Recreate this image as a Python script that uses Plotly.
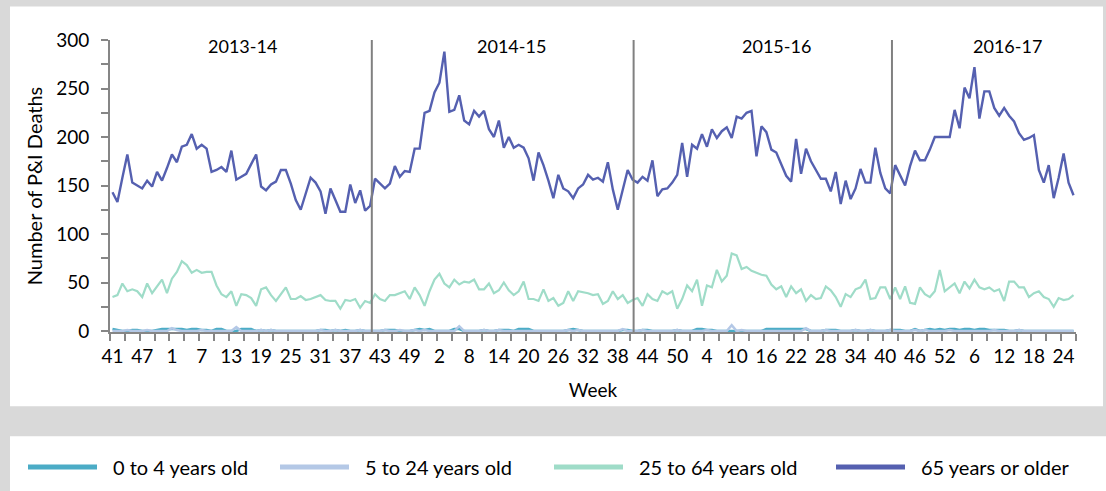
import plotly.graph_objects as go

# ---- categories: MMWR weeks, 2013 wk41 .. 2017 wk26 ----
weeks = (list(range(41, 53)) + list(range(1, 54)) + list(range(1, 53))
         + list(range(1, 53)) + list(range(1, 27)))
seasons = ["2013-14", "2014-15", "2015-16", "2016-17"]
series_names = ["0 to 4 years old", "5 to 24 years old", "25 to 64 years old", "65 years or older"]
series_colors = ["#4bacc6", "#b4c8e6", "#9fdcc8", "#5560b0"]

age_65_plus = [
    143, 133, 158, 182, 153, 150, 147, 155, 149, 164, 155, 168, 182, 174, 190, 192, 203, 188, 192, 188,
    164, 166, 169, 164, 186, 156, 159, 162, 172, 182, 149, 145, 151, 154, 166, 166, 152, 135, 125, 141,
    158, 153, 144, 121, 147, 135, 123, 123, 151, 132, 145, 124, 129, 157, 152, 147, 152, 170, 159, 165,
    164, 188, 188, 225, 227, 246, 256, 288, 226, 228, 243, 217, 213, 227, 221, 227, 208, 200, 217, 189,
    200, 189, 192, 189, 178, 155, 184, 171, 155, 137, 161, 147, 144, 137, 147, 151, 161, 156, 158, 154,
    174, 146, 125, 145, 166, 156, 153, 159, 155, 176, 139, 146, 147, 153, 161, 194, 159, 192, 188, 203,
    190, 208, 199, 206, 210, 199, 221, 219, 225, 227, 180, 211, 205, 187, 184, 172, 160, 154, 198, 162,
    188, 175, 166, 157, 157, 144, 164, 131, 155, 136, 147, 167, 153, 153, 189, 163, 147, 142, 171, 161,
    150, 170, 186, 176, 176, 187, 200, 200, 200, 200, 228, 209, 251, 240, 272, 219, 247, 247, 230, 222,
    230, 222, 216, 204, 197, 199, 202, 166, 153, 171, 137, 158, 183, 153, 140,
]

age_25_64 = [
    35, 37, 49, 41, 43, 41, 35, 49, 39, 46, 53, 39, 54, 61, 72, 68, 60, 63, 60, 61,
    61, 47, 38, 35, 41, 26, 38, 37, 34, 26, 43, 45, 37, 31, 38, 45, 33, 33, 36, 32,
    33, 35, 37, 32, 31, 31, 23, 32, 31, 33, 24, 31, 29, 38, 33, 31, 37, 37, 39, 41,
    33, 45, 37, 26, 41, 53, 59, 49, 45, 53, 48, 51, 50, 53, 43, 43, 49, 39, 42, 50,
    42, 37, 41, 51, 33, 33, 31, 43, 31, 34, 26, 29, 41, 31, 41, 40, 39, 37, 38, 28,
    31, 41, 33, 37, 29, 32, 34, 26, 38, 33, 31, 41, 38, 41, 23, 33, 47, 41, 53, 26,
    47, 45, 63, 51, 57, 80, 78, 64, 66, 62, 60, 58, 57, 48, 43, 46, 35, 46, 39, 43,
    31, 37, 33, 34, 46, 42, 35, 25, 38, 35, 43, 45, 53, 33, 34, 45, 45, 33, 45, 33,
    46, 29, 28, 45, 38, 35, 41, 63, 41, 45, 49, 39, 51, 44, 53, 45, 43, 45, 41, 43,
    31, 51, 51, 45, 45, 35, 39, 41, 35, 33, 25, 34, 32, 33, 37,
]

age_0_4 = [
    2, 1, 0, 0, 1, 1, 0, 0, 0, 1, 2, 2, 2, 2, 2, 1, 2, 2, 1, 1,
    0, 2, 2, 0, 0, 0, 2, 2, 2, 0, 1, 0, 1, 0, 0, 0, 0, 0, 0, 0,
    0, 0, 1, 1, 0, 1, 0, 1, 0, 0, 1, 0, 0, 0, 0, 1, 1, 1, 0, 0,
    0, 1, 2, 1, 2, 0, 0, 0, 0, 2, 2, 0, 0, 0, 0, 1, 0, 0, 1, 1,
    1, 0, 2, 2, 2, 0, 0, 0, 0, 0, 0, 0, 1, 2, 1, 0, 0, 0, 0, 0,
    0, 0, 0, 1, 1, 0, 0, 1, 1, 0, 0, 0, 0, 0, 1, 0, 0, 0, 2, 2,
    1, 1, 0, 0, 0, 0, 0, 0, 0, 0, 0, 0, 2, 2, 2, 2, 2, 2, 2, 2,
    2, 0, 0, 0, 1, 1, 1, 0, 0, 0, 1, 0, 0, 1, 0, 0, 0, 1, 1, 1,
    0, 0, 2, 0, 1, 2, 1, 2, 1, 2, 2, 1, 2, 2, 1, 2, 2, 1, 1, 1,
    1, 0, 0, 1, 0, 0, 0, 0, 0, 0, 0, 0, 0, 0, 0,
]

age_5_24 = [
    0, 0, 0, 1, 0, 0, 0, 1, 0, 0, 0, 0, 3, 1, 0, 0, 0, 0, 1, 0,
    0, 0, 0, 0, 0, 4, 0, 0, 0, 0, 1, 0, 1, 0, 0, 0, 0, 0, 0, 0,
    0, 0, 1, 0, 0, 1, 0, 0, 0, 0, 1, 0, 0, 0, 0, 1, 0, 0, 1, 0,
    0, 1, 0, 1, 0, 0, 0, 0, 0, 0, 5, 0, 0, 0, 0, 1, 0, 0, 1, 0,
    0, 0, 0, 0, 0, 0, 0, 0, 0, 0, 0, 0, 1, 0, 1, 0, 0, 0, 0, 0,
    0, 0, 0, 2, 0, 0, 0, 1, 0, 0, 0, 0, 0, 0, 1, 0, 0, 0, 0, 0,
    1, 0, 0, 0, 0, 6, 0, 1, 0, 0, 0, 0, 0, 0, 0, 0, 0, 0, 0, 0,
    3, 0, 0, 0, 1, 0, 0, 0, 0, 0, 1, 0, 0, 1, 0, 0, 0, 1, 0, 0,
    0, 0, 1, 0, 1, 0, 0, 0, 0, 1, 0, 0, 0, 0, 0, 0, 0, 0, 1, 0,
    0, 0, 0, 1, 0, 0, 0, 0, 0, 0, 0, 0, 0, 0, 0,
]

season_divider_x = [52.35, 105.2, 157.35]
season_label_x = [26.3, 80.6, 134.1, 180.7]

FONT = "Lato, Open Sans, sans-serif"
GRAY_AX = "#868686"

x = list(range(len(weeks)))
label_idx = list(range(0, len(weeks), 6))

fig = go.Figure()
all_series = [age_0_4, age_5_24, age_25_64, age_65_plus]
widths = [2.5, 2.5, 2.2, 2.4]
for name, vals, col, w in zip(series_names, all_series, series_colors, widths):
    fig.add_trace(go.Scatter(x=x, y=vals, mode="lines", name=name,
                             line=dict(color=col, width=w), showlegend=False))

W, H = 1106, 491
L, R, T, B = 110, 1076, 39.5, 332.5
pw, ph = R - L, B - T

def px2paper_x(px):
    return (px - L) / pw

def px2paper_y(py):
    return (B - py) / ph

shapes = []
# white panels
shapes.append(dict(type="rect", xref="paper", yref="paper", layer="below",
                   x0=px2paper_x(10), x1=px2paper_x(1103), y0=px2paper_y(407), y1=px2paper_y(6),
                   fillcolor="white", line=dict(width=0)))
shapes.append(dict(type="rect", xref="paper", yref="paper", layer="below",
                   x0=px2paper_x(10), x1=px2paper_x(1112), y0=px2paper_y(497), y1=px2paper_y(437),
                   fillcolor="white", line=dict(width=0)))
# season dividers
for dx in season_divider_x:
    shapes.append(dict(type="line", xref="x", yref="paper", x0=dx, x1=dx, y0=0, y1=1,
                       line=dict(color="#808080", width=2)))

annotations = []
for s, sx in zip(seasons, season_label_x):
    annotations.append(dict(x=sx, y=px2paper_y(46), xref="x", yref="paper", text=s,
                            showarrow=False, font=dict(family=FONT, size=18, color="black"),
                            xanchor="center", yanchor="middle"))

# manual legend (swatches + labels)
leg_sw_x = [28, 280, 554, 836]
leg_y = 468
for name, col, sx in zip(series_names, series_colors, leg_sw_x):
    shapes.append(dict(type="line", xref="paper", yref="paper",
                       x0=px2paper_x(sx), x1=px2paper_x(sx + 69),
                       y0=px2paper_y(leg_y), y1=px2paper_y(leg_y),
                       line=dict(color=col, width=5)))
    annotations.append(dict(x=px2paper_x(sx + 83), y=px2paper_y(leg_y), xref="paper", yref="paper",
                            text=name, showarrow=False, xanchor="left", yanchor="middle",
                            font=dict(family=FONT, size=20, color="black")))

fig.update_layout(
    width=W, height=H,
    margin=dict(l=L, r=W - R, t=T, b=H - B, pad=0),
    paper_bgcolor="#d9d9d9", plot_bgcolor="white",
    font=dict(family=FONT, size=18, color="black"),
    shapes=shapes, annotations=annotations, showlegend=False,
)
fig.update_xaxes(
    range=[-0.5, len(weeks) - 0.5], tickmode="array", tickvals=label_idx,
    ticktext=[str(weeks[i]) for i in label_idx], ticks="", showgrid=False, zeroline=False,
    showline=True, linecolor=GRAY_AX, linewidth=2, ticklabelstandoff=6,
    tickfont=dict(family=FONT, size=19, color="black"),
    minor=dict(ticks="outside", tickmode="linear", tick0=-0.5, dtick=3, ticklen=7,
               tickcolor=GRAY_AX, tickwidth=2, showgrid=False),
    title=dict(text="Week", font=dict(family=FONT, size=19, color="black"), standoff=18),
)
fig.update_yaxes(
    range=[-1, 300], tickmode="linear", tick0=0, dtick=50, ticks="outside", ticklen=7,
    tickcolor=GRAY_AX, tickwidth=2, showgrid=False, zeroline=False,
    showline=True, linecolor=GRAY_AX, linewidth=2, ticklabelstandoff=8,
    tickfont=dict(family=FONT, size=19, color="black"),
    minor=dict(ticks="outside", tickmode="linear", tick0=25, dtick=50, ticklen=7,
               tickcolor=GRAY_AX, tickwidth=2, showgrid=False),
    title=dict(text="Number of P&I Deaths", font=dict(family=FONT, size=20, color="black"), standoff=8),
)

fig.write_html(
    "out.html",
    config={"displayModeBar": False},
    post_script="document.body.style.margin='0';document.body.style.background='#d9d9d9';",
)
